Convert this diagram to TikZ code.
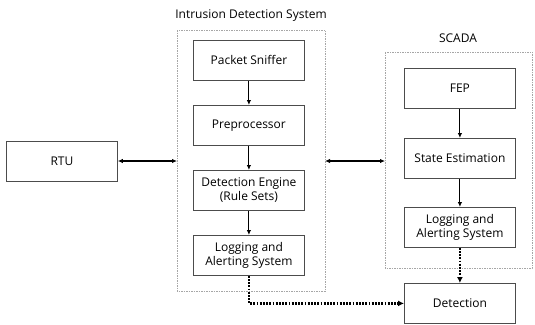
\documentclass[tikz,border=0pt]{standalone}
\usepackage{fontspec}
\setmainfont{Open Sans}
\usetikzlibrary{arrows.meta}
\begin{document}
\begin{tikzpicture}[x=1pt,y=-1pt,
  blk/.style={draw=black!70,line width=0.8pt,minimum width=111pt,minimum height=40pt,
    align=center,font=\fontsize{12}{14}\selectfont,inner sep=1pt,anchor=north west},
  grp/.style={draw=black!35,dash pattern=on 1.5pt off 1pt,line width=0.7pt},
  flow/.style={line width=1.1pt,-{Latex[length=5pt,width=4.5pt]}},
  link/.style={line width=1.1pt,{Latex[length=5pt,width=4.5pt]}-{Latex[length=5pt,width=4.5pt]}},
  alarm/.style={line width=2.2pt,dash pattern=on 1.8pt off 1.4pt,-{Latex[length=6pt,width=6pt]}},
  title/.style={font=\fontsize{12}{14}\selectfont}]
\useasboundingbox (0,0) rectangle (535,324);
% grouping frames
\draw[grp] (177,30) rectangle (325,291);
\draw[grp] (385,52) rectangle (532,268);
\node[title] at (251,16) {Intrusion Detection System};
\node[title] at (458,38) {SCADA};
% intrusion detection system
\node[blk] (ps) at (193,40) {Packet Sniffer};
\node[blk] (pp) at (193,105) {Preprocessor};
\node[blk] (de) at (193,170) {Detection Engine\\(Rule Sets)};
\node[blk] (li) at (193,235) {Logging and\\Alerting System};
% scada
\node[blk] (fep) at (404,68) {FEP};
\node[blk] (se) at (404,138) {State Estimation};
\node[blk] (ls) at (404,207) {Logging and\\Alerting System};
\node[blk] (det) at (404,283) {Detection};
% rtu
\node[blk] (rtu) at (6,141) {RTU};
% internal flows
\draw[flow] (ps) -- (pp);
\draw[flow] (pp) -- (de);
\draw[flow] (de) -- (li);
\draw[flow] (fep) -- (se);
\draw[flow] (se) -- (ls);
% links between systems
\coordinate (idsL) at (177,161);
\coordinate (idsR) at (325,161);
\coordinate (scL) at (385,161);
\draw[link] (rtu.east |- idsL) -- (idsL);
\draw[link] (idsR) -- (scL);
% alert paths
\coordinate (bend) at (li.south |- det.west);
\draw[alarm] (li.south) -- (bend) -- (det.west);
\draw[alarm] (ls.south) -- (det.north);
\end{tikzpicture}
\end{document}
